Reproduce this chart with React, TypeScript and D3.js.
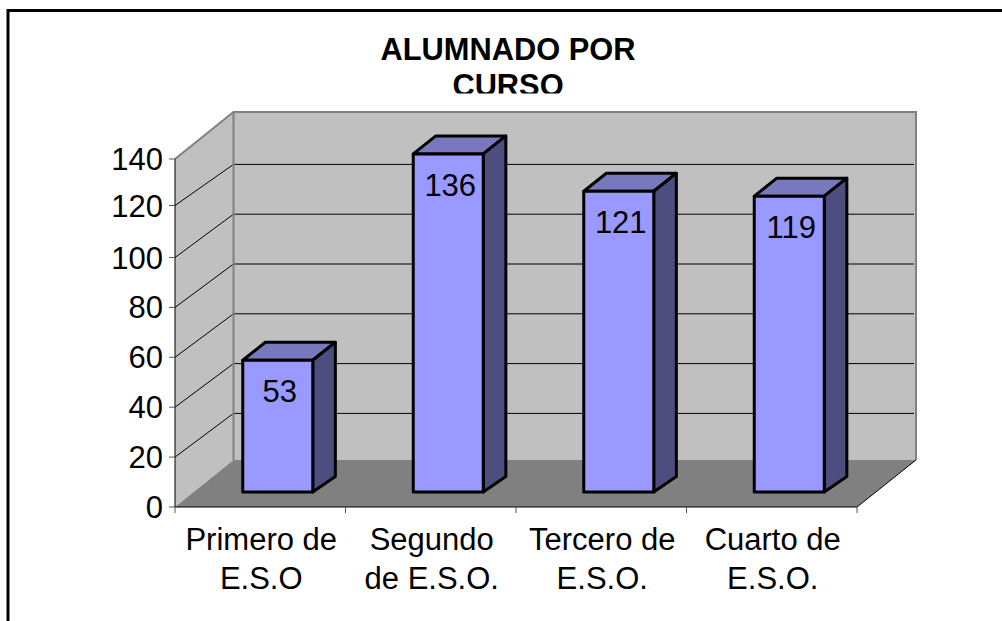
import React from "react";
import * as d3 from "d3";

const categories = [["Primero de", "E.S.O"], ["Segundo", "de E.S.O."], ["Tercero de", "E.S.O."], ["Cuarto de", "E.S.O."]];
const values = [53, 136, 121, 119];
const yTicks = [0, 20, 40, 60, 80, 100, 120, 140];
const titleLines = ["ALUMNADO POR", "CURSO"];

const FONT = '"Liberation Sans", Arial, sans-serif';

export default function App() {
  const x = d3.scaleBand<number>().domain(d3.range(categories.length)).range([175, 857]);
  const yFront = d3.scaleLinear().domain([0, 100, 120, 140]).range([507, 257.5, 205.5, 159]);
  const yBack = d3.scaleLinear().domain([0, 140]).range([463.2, 114.6]);
  const yBar = d3.scaleLinear().domain([0, 140]).range([492, 144]);
  const barW = 70;
  const depthX = 22.6;
  const backX = 233.5;
  const wallRight = 916;
  const wallTop = 112;
  const floorBack = 460;
  return (
    <svg width={1002} height={621} style={{ position: "absolute", left: 0, top: 0, background: "#fff" }} fontFamily={FONT}>
      <defs>
        <clipPath id="titleClip"><rect x={0} y={0} width={1002} height={93.5} /></clipPath>
      </defs>
      <path d="M8 621V10.5H1002" fill="none" stroke="#000" strokeWidth={3} />
      <g clipPath="url(#titleClip)" fontSize={30.8} fontWeight="bold" textAnchor="middle" fill="#000">
        {titleLines.map((l, i) => <text key={l} x={508} y={60 + i * 36}>{l}</text>)}
      </g>
      {/* side wall */}
      <path d={`M175 ${yFront(140)}L${backX} ${wallTop}V${floorBack}L175 507Z`} fill="#c0c0c0" />
      {/* back wall */}
      <rect x={backX} y={wallTop} width={wallRight - backX} height={floorBack - wallTop} fill="#c0c0c0" />
      {/* floor */}
      <path d={`M175 507L${backX} ${floorBack}H${wallRight}L857 507Z`} fill="#808080" />
      {/* grid */}
      {yTicks.slice(1, -1).map(t => (
        <path key={t} d={`M175 ${yFront(t)}L${backX} ${yBack(t)}H${wallRight - 2}`} fill="none" stroke="#000" strokeWidth={1} />
      ))}
      {/* wall borders */}
      <path d={`M175 ${yFront(140)}L${backX} ${wallTop}H${wallRight}V${floorBack}`} fill="none" stroke="#808080" strokeWidth={2} />
      <path d={`M${backX} ${wallTop}V${floorBack}`} fill="none" stroke="#808080" strokeWidth={2} />
      <path d={`M857 507L${wallRight} ${floorBack}`} fill="none" stroke="#000" strokeWidth={1} />
      {/* axes */}
      <path d={`M175 ${yFront(140)}V507H857`} fill="none" stroke="#000" strokeWidth={1} />
      {yTicks.map(t => (
        <g key={t}>
          <line x1={169} x2={175} y1={yFront(t)} y2={yFront(t)} stroke="#555" strokeWidth={1} />
          <text x={163} y={yFront(t) + 11} fontSize={31} textAnchor="end" fill="#000">{t}</text>
        </g>
      ))}
      {d3.range(categories.length + 1).map(i => {
        const tx = 175 + i * x.step();
        return <line key={i} x1={tx} x2={tx} y1={507} y2={513} stroke="#555" strokeWidth={1} />;
      })}
      {categories.map((lines, i) => (
        <g key={i} fontSize={31} textAnchor="middle" fill="#000">
          {lines.map((l, j) => (
            <text key={j} x={x(i)! + x.bandwidth() / 2 + 1} y={550 + j * 38.5}>{l}</text>
          ))}
        </g>
      ))}
      {/* bars */}
      {values.map((v, i) => {
        const x0 = x(i)! + x.bandwidth() / 2 - 17.5;
        const x1 = x0 + barW;
        const top = yBar(v);
        const base = yBar(0);
        return (
          <g key={i} stroke="#000" strokeWidth={3} strokeLinejoin="round">
            <path d={`M${x0} ${top}L${x0 + depthX} ${top - 18}H${x1 + depthX}L${x1} ${top}Z`} fill="#7878bf" />
            <path d={`M${x1} ${top}L${x1 + depthX} ${top - 18}V${base - 15.5}L${x1} ${base}Z`} fill="#4d4d80" />
            <rect x={x0} y={top} width={barW} height={base - top} fill="#9999ff" />
            <text x={x0 + 37} y={top + 42} fontSize={31} textAnchor="middle" fill="#000" stroke="none">{v}</text>
          </g>
        );
      })}
    </svg>
  );
}
